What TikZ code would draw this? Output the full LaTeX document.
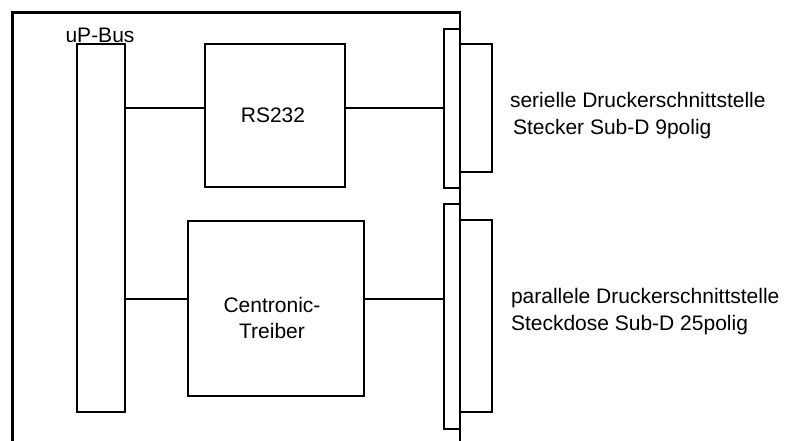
\documentclass[tikz,border=0pt]{standalone}
\usepackage{fontspec}
\setmainfont{Liberation Sans}
\begin{document}
\begin{tikzpicture}[x=1pt,y=-1pt,
  box/.style={draw=black,line width=2.5pt,minimum width=#1,inner sep=0pt,outer sep=0pt},
  lbl/.style={font=\fontsize{21}{26}\selectfont,inner sep=0pt,outer sep=0pt},
  wire/.style={line width=2.5pt}]
\useasboundingbox[fill=white] (0,0) rectangle (786,440);
% frame
\coordinate (fbl) at (12.5,442);
\coordinate (ftl) at (12.5,12.5);
\coordinate (ftr) at (460,12.5);
\coordinate (fbr) at (460,442);
\draw[wire] (fbl) -- (ftl) -- (ftr) -- (fbr);
% bus
\node[box=48pt,minimum height=368pt] (bus) at (101,228) {};
\node[lbl,anchor=base] (buslbl) at (100,42) {uP-Bus};
% RS232
\node[box=140pt,minimum height=143pt] (rs) at (275,115.5) {};
\node[lbl,anchor=base] (rslbl) at (273,122) {RS232};
% Centronic
\node[box=176pt,minimum height=175pt] (cen) at (276,308.5) {};
\node[lbl,anchor=base] (cenl1) at (272,312) {Centronic-};
\node[lbl,anchor=base] (cenl2) at (272,338) {Treiber};
% serial connector
\node[box=16pt,minimum height=159pt,fill=white] (sern) at (452,108.5) {};
\node[box=32pt,minimum height=128pt,fill=white] (serw) at (476,108) {};
% parallel connector
\node[box=16pt,minimum height=225pt,fill=white] (parn) at (452,316.5) {};
\node[box=32pt,minimum height=192pt,fill=white] (parw) at (476,316) {};
% wires
\draw[wire] (bus.east |- 0,108) -- (rs.west |- 0,108);
\draw[wire] (rs.east |- 0,108) -- (sern.west |- 0,108);
\draw[wire] (bus.east |- 0,299) -- (cen.west |- 0,299);
\draw[wire] (cen.east |- 0,299) -- (parn.west |- 0,299);
% texts
\node[lbl,anchor=base west] (s1) at (510,107) {serielle Druckerschnittstelle};
\node[lbl,anchor=base west] (s2) at (513,134) {Stecker Sub-D 9polig};
\node[lbl,anchor=base west] (p1) at (511,303) {parallele Druckerschnittstelle};
\node[lbl,anchor=base west] (p2) at (511,330) {Steckdose Sub-D 25polig};
\end{tikzpicture}
\end{document}
